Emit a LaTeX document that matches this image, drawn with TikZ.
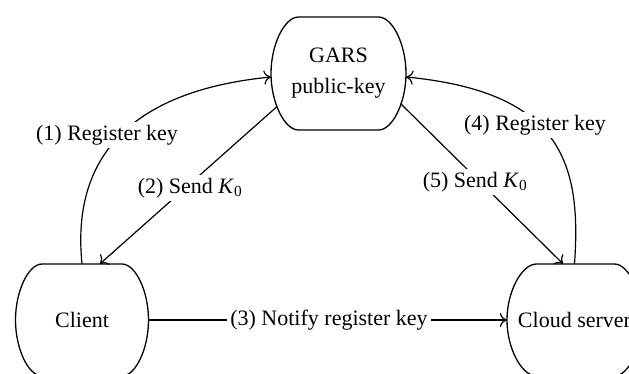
\documentclass[tikz,border=0pt]{standalone}
\usepackage{fontspec}
\setmainfont{Liberation Serif}
\usetikzlibrary{arrows.meta,calc}
\begin{document}
\begin{tikzpicture}[x=1pt,y=-1pt,
  every node/.style={font=\fontsize{22}{31}\selectfont},
  boxnode/.style={draw=none, inner sep=0pt, align=center},
  boxline/.style={line width=1.3pt, draw=black},
  conn/.style={line width=1.2pt, -{Computer Modern Rightarrow[length=7pt,width=14pt]}},
  lbl/.style={fill=white, inner sep=3pt}]
\useasboundingbox (0,0) rectangle (629,373);
\fill[white] (0,0) rectangle (629,373);

% nodes
\node[boxnode, minimum width=135pt, minimum height=113pt] (g) at (338.5,73.5) {GARS\\public-key};
\node[boxnode, minimum width=133pt, minimum height=112pt] (c) at (82,320) {Client};
\node[boxnode, minimum width=135pt, minimum height=112pt] (s) at (574.5,320) {Cloud server};

% outlines
\begin{scope}[shift={(g.center)}]
\draw[boxline] (-40,-56.5) -- (40,-56.5)
  .. controls (54,-56.5) and (67.5,-29) .. (67.5,0)
  .. controls (67.5,29) and (54,56.5) .. (40,56.5)
  -- (-40,56.5)
  .. controls (-54,56.5) and (-67.5,29) .. (-67.5,0)
  .. controls (-67.5,-29) and (-54,-56.5) .. cycle;
\end{scope}
\begin{scope}[shift={(c.center)}]
\draw[boxline] (-40,-56) -- (40,-56)
  .. controls (53.5,-56) and (66.5,-29) .. (66.5,0)
  .. controls (66.5,29) and (53.5,56) .. (40,56)
  -- (-40,56)
  .. controls (-53.5,56) and (-66.5,29) .. (-66.5,0)
  .. controls (-66.5,-29) and (-53.5,-56) .. cycle;
\end{scope}
\begin{scope}[shift={(s.center)}]
\draw[boxline] (-38,-56) -- (40,-56)
  .. controls (53.5,-56) and (67.5,-29) .. (67.5,0)
  .. controls (67.5,29) and (53.5,56) .. (40,56)
  -- (-38,56)
  .. controls (-52.5,56) and (-67.5,29) .. (-67.5,0)
  .. controls (-67.5,-29) and (-52.5,-56) .. cycle;
\end{scope}

% connectors
\draw[conn] (c.north) .. controls +(-10,-98) and +(-150,15) .. ([yshift=-3.5pt]g.west);
\draw[conn] (s.north) .. controls +(7.5,-103) and +(153,15) .. ([yshift=-3.5pt]g.east);
\draw[conn] ($(g.center)+(-62,33.5)$) -- ([xshift=18pt]c.north);
\draw[conn] ($(g.center)+(62,30)$) -- ([xshift=-11.5pt]s.north);
\draw[conn] (c.east) -- (s.west);

% labels
\node[lbl] (l1) at (107,135) {(1) Register key};
\node[lbl] (l2) at (190,188) {(2) Send \textit{K}\textsubscript{0}};
\node[lbl] (l3) at (329,320) {(3) Notify register key};
\node[lbl] (l4) at (535,125) {(4) Register key};
\node[lbl] (l5) at (475,182) {(5) Send \textit{K}\textsubscript{0}};
\end{tikzpicture}
\end{document}
